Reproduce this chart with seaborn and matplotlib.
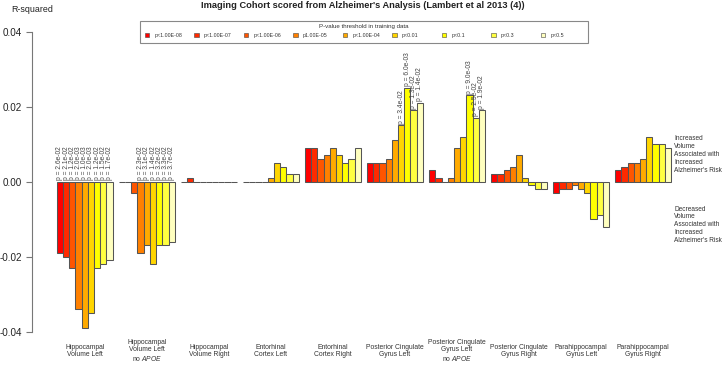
import numpy as np
import pandas as pd
import seaborn as sns
import matplotlib.pyplot as plt
from matplotlib.patches import Rectangle

sns.set_theme(style="white")
plt.rcParams['font.family'] = ['Liberation Sans', 'DejaVu Sans']
plt.rcParams['mathtext.fontset'] = 'custom'
plt.rcParams['mathtext.rm'] = 'Liberation Sans'
plt.rcParams['mathtext.it'] = 'Liberation Sans:italic'

# data
regions = [
    "Hippocampal\nVolume Left",
    "Hippocampal\nVolume Left\nno $\\mathit{APOE}$",
    "Hippocampal\nVolume Right",
    "Entorhinal\nCortex Left",
    "Entorhinal\nCortex Right",
    "Posterior Cingulate\nGyrus Left",
    "Posterior Cingulate\nGyrus Left\nno $\\mathit{APOE}$",
    "Posterior Cingulate\nGyrus Right",
    "Parahippocampal\nGyrus Left",
    "Parahippocampal\nGyrus Right",
]
thresholds = ["p<1.00E-08", "p<1.00E-07", "p<1.00E-06", "p1.00E-05", "p<1.00E-04",
              "p<0.01", "p<0.1", "p<0.3", "p<0.5"]
colors = ["#FF0000", "#FF2A00", "#FF5500", "#FF8000", "#FFAA00",
          "#FFD500", "#FFFF00", "#FFFF40", "#FFFFBF"]

hipp_left = [-0.019, -0.020, -0.023, -0.034, -0.039, -0.035, -0.023, -0.022, -0.021]
hipp_left_noapoe = [0.0, 0.0, -0.003, -0.019, -0.017, -0.022, -0.017, -0.017, -0.016]
hipp_right = [0.0, 0.001, 0.0, 0.0, 0.0, 0.0, 0.0, 0.0, 0.0]
ento_left = [0.0, 0.0, 0.0, 0.0, 0.001, 0.005, 0.004, 0.002, 0.002]
ento_right = [0.009, 0.009, 0.006, 0.007, 0.009, 0.007, 0.005, 0.006, 0.009]
pcg_left = [0.005, 0.005, 0.005, 0.006, 0.011, 0.015, 0.025, 0.019, 0.021]
pcg_left_noapoe = [0.003, 0.001, 0.0, 0.001, 0.009, 0.012, 0.023, 0.017, 0.019]
pcg_right = [0.002, 0.002, 0.003, 0.004, 0.007, 0.001, -0.001, -0.002, -0.002]
parahipp_left = [-0.003, -0.002, -0.002, -0.001, -0.002, -0.003, -0.010, -0.009, -0.012]
parahipp_right = [0.003, 0.004, 0.005, 0.005, 0.006, 0.012, 0.010, 0.010, 0.009]

p_hipp_left = ["2.6e-02", "2.1e-02", "1.2e-02", "2.0e-03", "1.0e-03", "2.0e-03",
               "1.2e-02", "1.5e-02", "1.7e-02"]
p_hipp_left_noapoe = ["", "", "", "2.3e-02", "3.1e-02", "1.4e-02", "3.2e-02",
                      "3.3e-02", "3.7e-02"]
p_pcg_left = ["", "", "", "", "", "3.4e-02", "6.0e-03", "1.3e-02", "1.4e-02"]
p_pcg_left_noapoe = ["", "", "", "", "", "", "9.0e-03", "2.5e-02", "1.9e-02"]
p_none = [""] * 9

values = [hipp_left, hipp_left_noapoe, hipp_right, ento_left, ento_right,
          pcg_left, pcg_left_noapoe, pcg_right, parahipp_left, parahipp_right]
pvals = [p_hipp_left, p_hipp_left_noapoe, p_none, p_none, p_none,
         p_pcg_left, p_pcg_left_noapoe, p_none, p_none, p_none]

rows = []
for r, vals in zip(regions, values):
    for t, v in zip(thresholds, vals):
        rows.append({"region": r, "threshold": t, "r2": v})
df = pd.DataFrame(rows)

fig = plt.figure(figsize=(7.22, 3.65), dpi=100)
ax = fig.add_axes([0.0447, 0.0584, 0.9188, 0.8877])

sns.barplot(data=df, x="region", y="r2", hue="threshold", order=regions,
            hue_order=thresholds, palette=colors, saturation=1, width=0.9,
            edgecolor="#555555", linewidth=0.75, errorbar=None, legend=False, ax=ax)

# p-value labels above the bars
for j, cont in enumerate(ax.containers):
    for i, bar in enumerate(cont):
        lab = pvals[i][j]
        if not lab:
            continue
        top = max(bar.get_y(), bar.get_y() + bar.get_height())
        ax.annotate("p = " + lab, (bar.get_x() + bar.get_width() / 2, top),
                    xytext=(0, 1.2), textcoords="offset points", rotation=90,
                    ha="center", va="bottom", fontsize=4.8, color="#444444")

ax.set_xlim(-0.846, 9.846)
ax.set_ylim(-0.0432, 0.0432)
ax.set_yticks([-0.04, -0.02, 0.0, 0.02, 0.04])
ax.set_yticklabels(["-0.04", "-0.02", "0.00", "0.02", "0.04"])
ax.set_xlabel("")
ax.set_ylabel("")
for s in ["top", "right", "bottom"]:
    ax.spines[s].set_visible(False)
ax.spines["left"].set_bounds(-0.04, 0.04)
ax.spines["left"].set_color("#777777")
ax.spines["left"].set_linewidth(0.8)
ax.tick_params(axis="y", which="both", left=True, length=4.3, width=0.8,
               color="#777777", pad=3, labelsize=7.1, labelcolor="#222222")
ax.tick_params(axis="x", length=0, pad=5.3, labelsize=4.9, labelcolor="#333333")
for t in ax.get_xticklabels():
    t.set_va("center")
    t.set_linespacing(1.1)

ax.text(9.5, 0.0073, "Increased\nVolume\nAssociated with\nIncreased\nAlzheimer's Risk",
        ha="left", va="center", fontsize=4.7, color="#333333", linespacing=1.17)
ax.text(9.5, -0.0115, "Decreased\nVolume\nAssociated with\nIncreased\nAlzheimer's Risk",
        ha="left", va="center", fontsize=4.7, color="#333333", linespacing=1.17)

W, H = 722, 365
fig.text(363 / W, 1 - 5.5 / H,
         "Imaging Cohort scored from Alzheimer's Analysis (Lambert et al 2013 (4))",
         ha="center", va="center", fontsize=6.65, fontweight="bold", color="#222222")
fig.text(32.5 / W, 1 - 9.5 / H, "R-squared", ha="center", va="center",
         fontsize=6.4, color="#222222")

# legend box drawn like the original horizontal R legend
fig.add_artist(Rectangle((140 / W, 1 - 43.3 / H), 448 / W, 22.6 / H,
                         transform=fig.transFigure, facecolor="white",
                         edgecolor="#888888", linewidth=0.8))
fig.text(364 / W, 1 - 26.5 / H, "P-value threshold in training data",
         ha="center", va="center", fontsize=4.4, color="#333333")
for k, (lab, c) in enumerate(zip(thresholds, colors)):
    xm = 147 + 49.5 * k
    fig.add_artist(Rectangle(((xm - 2.2) / W, 1 - 37.3 / H), 4.4 / W, 3.9 / H,
                             transform=fig.transFigure, facecolor=c,
                             edgecolor="#444444", linewidth=0.4))
    fig.text((xm + 7.5) / W, 1 - 35.5 / H, lab, ha="left", va="center",
             fontsize=3.8, color="#333333")

fig.savefig("out.png", dpi=100)
